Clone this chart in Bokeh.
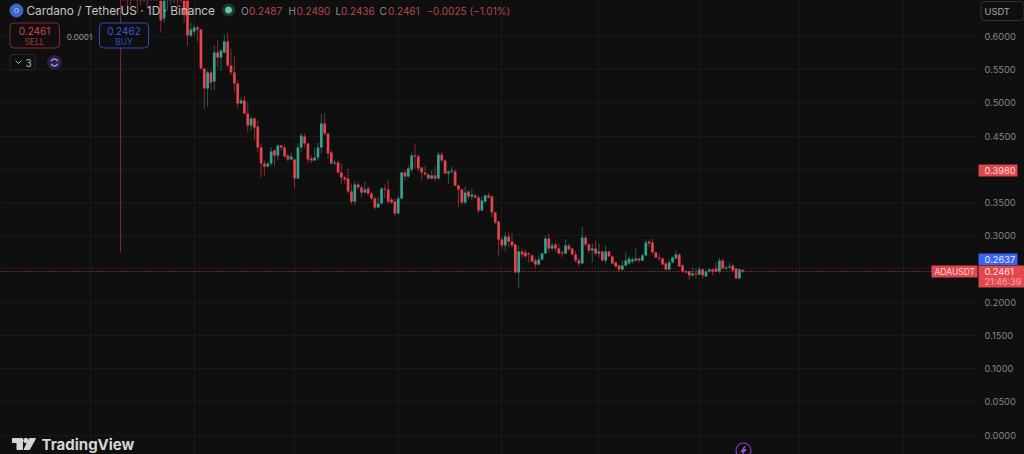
from bokeh.plotting import figure
from bokeh.models import Range1d, FixedTicker, Label, BoxAnnotation, Span, NumeralTickFormatter
from bokeh.embed import file_html
from bokeh.resources import INLINE

opens = [.72,.70,.69,.68,.665,.68,.67,.66,.68,.70,.665,.69,.665,.627,.655,.69,.66,.68,.69,.68,.655,
 .6015,.6075,.6135,.6105,.5518,.5217,.5458,.5322,.5759,.5684,.5759,.5925,.5563,.5458,.5292,.4991,.5036,.484,.466,.4765,.4645,.4329,.4088,.4043,.4088,.4284,.4208,.4359,.4329,.4208,.4148,.4148,.3862,.4329,.4494,.4389,.4163,.4133,.4178,.4329,.469,.454,.4253,.4088,.4103,
 .3952,.3877,.3862,.3666,.3516,.3772,.3727,.3651,.3711,.3636,.3561,.3425,.3486,.3711,.3696,.3546,.3516,.3335,.3561,.3952,.3892,.3997,.4208,.4193,.4028,.3952,.3922,.3862,.3907,.3862,.4223,.4133,.3937,.3967,.3967,.3757,.3696,.3501,.3666,.3591,.3606,.3576,.338,.3516,.3606,
 .3591,.335,.3215,.2944,.2853,.2989,.2914,.2868,.2447,.2763,.2748,.2733,.2703,.2627,.2567,.2642,.2733,.2959,.2808,.2868,.2808,.2748,.2733,.2853,.2808,.2718,.2627,.2582,.2974,.2868,.2778,.2808,.2733,.2763,.2627,.2763,.2688,.2597,.2552,
 .2492,.2552,.2582,.2612,.2627,.2657,.2627,.2703,.2913,.2898,.2748,.2673,.2658,.2582,.2492,.2597,.2657,.2718,.2552,.2462,.2462,.2402,.2432,.2417,.2492,.2386,.2462,.2492,.2507,.2462,.2627,.2507,.2522,.2552,.2507,.2356,.2487]
highs = [.74,.72,.70,.69,.69,.69,.68,.68,.69,.71,.70,.70,.68,.67,.68,.70,.70,.69,.70,.69,.66,
 .621,.618,.6165,.612,.5518,.5488,.5488,.5864,.594,.5804,.603,.606,.5819,.5714,.5338,.5082,.5112,.5006,.481,.478,.4735,.4389,.4133,.4118,.4329,.4299,.4374,.4374,.4374,.4238,.4253,.4163,.4389,.454,.454,.4404,.4208,.4329,.4404,.484,.484,.454,.4299,.4148,.4133,
 .4088,.3907,.4012,.3787,.3817,.3802,.3757,.3817,.3742,.3666,.3591,.3591,.3727,.3772,.3847,.3576,.3561,.3591,.3967,.3982,.4058,.4253,.4389,.4223,.4028,.4058,.3937,.3982,.4043,.4269,.4269,.4148,.3982,.4043,.3997,.3772,.3711,.3742,.3681,.3711,.3636,.3606,.3591,.3621,.3651,
 .3606,.3365,.3215,.2989,.3049,.3049,.3034,.2883,.2853,.2808,.2793,.2748,.2718,.2673,.2703,.2748,.3004,.3034,.2898,.2898,.2883,.2778,.2944,.2883,.2823,.2778,.2673,.3139,.3004,.2883,.2883,.2929,.2883,.2778,.2853,.2778,.2703,.2612,.2567,
 .2627,.2748,.2688,.2673,.2823,.2673,.2733,.2944,.2944,.2959,.2763,.2733,.2673,.2612,.2642,.2688,.2778,.2733,.2582,.2477,.2477,.2522,.2507,.2537,.2507,.2492,.2507,.2507,.2597,.2673,.2658,.2552,.2597,.2567,.2507,.2507,.2490]
lows = [.2748,.665,.6437,.6467,.655,.636,.6467,.652,.645,.66,.658,.655,.606,.621,.639,.648,.65,.642,.65,.621,.586,
 .5985,.6015,.5925,.5503,.4916,.4946,.5187,.5187,.5533,.5488,.5744,.5533,.5413,.5157,.4916,.4991,.4835,.4555,.4585,.4434,.4253,.3877,.3907,.4028,.4043,.4043,.4133,.4284,.4178,.4118,.4133,.3711,.3862,.4253,.4329,.4088,.4088,.4133,.4133,.4238,.4509,.4163,.4088,.4058,.3922,
 .3772,.3787,.3636,.3471,.3455,.3696,.3576,.3636,.3606,.3531,.3395,.341,.3471,.3561,.3486,.3486,.329,.332,.3546,.3832,.3877,.3952,.4012,.3967,.3847,.3892,.3847,.3847,.3817,.3847,.4103,.3922,.3787,.3937,.3742,.3425,.3455,.3471,.3546,.3531,.3561,.3335,.338,.3486,.3561,
 .3275,.317,.2688,.2793,.2763,.2823,.2823,.2432,.2206,.2658,.2673,.2597,.2597,.2507,.2552,.2627,.2718,.2748,.2778,.2748,.2718,.2673,.2718,.2778,.2703,.2597,.2537,.2582,.2838,.2733,.2597,.2703,.2673,.2612,.2582,.2688,.2567,.2522,.2462,
 .2477,.2537,.2567,.2582,.2612,.2597,.2612,.2688,.2823,.2733,.2658,.2612,.2552,.2477,.2477,.2582,.2658,.2537,.2447,.2432,.2341,.2386,.2356,.2402,.2356,.2386,.2447,.2402,.2447,.2432,.2492,.2492,.2507,.2462,.2356,.2356,.2436]
closes = [.70,.69,.665,.665,.68,.66,.66,.675,.665,.68,.69,.67,.624,.66,.675,.66,.68,.665,.668,.632,.6015,
 .6105,.6135,.6105,.5518,.5217,.5458,.5307,.5759,.5684,.5789,.5925,.5563,.5458,.5292,.4991,.5036,.484,.466,.4765,.463,.4329,.4088,.4043,.4088,.4269,.4208,.4359,.4329,.4193,.4148,.4193,.3862,.4329,.4509,.4389,.4148,.4133,.4178,.4329,.469,.454,.4238,.4088,.4103,.3952,
 .3877,.3847,.3666,.3516,.3772,.3727,.3651,.3696,.3636,.3561,.3425,.3486,.3711,.3696,.3516,.3501,.3335,.3561,.3952,.3892,.4012,.4208,.4193,.4012,.3952,.3922,.3862,.3907,.3862,.4223,.4133,.3937,.3967,.3982,.3757,.3696,.3501,.3651,.3591,.3621,.3576,.338,.3531,.3606,.3576,
 .335,.32,.2944,.2853,.2989,.2914,.2853,.2447,.2763,.2718,.2688,.2718,.2612,.2567,.2642,.2733,.2959,.2808,.2853,.2808,.2733,.2733,.2853,.2793,.2718,.2627,.2582,.2974,.2868,.2778,.2808,.2733,.2763,.2627,.2763,.2688,.2582,.2537,.2492,
 .2552,.2627,.2657,.2642,.2657,.2627,.2703,.2898,.2883,.2748,.2673,.2658,.2567,.2492,.2597,.2673,.2718,.2537,.2462,.2447,.2402,.2432,.2417,.2492,.2402,.2462,.2492,.2462,.2462,.2627,.2507,.2522,.2537,.2477,.2356,.2492,.2461]
price_ticks = [0.0,0.05,0.1,0.15,0.2,0.25,0.3,0.35,0.4,0.45,0.5,0.55,0.6]
month_offsets = [-195,-164,-134,-103,-72,-43,-13,17,48]
last_price = 0.2461

N = min(len(opens), len(highs), len(lows), len(closes))
opens, highs, lows, closes = opens[:N], highs[:N], lows[:N], closes[:N]

W, H, FW = 1024, 454, 977
STEP = 3.345
LAST_PX = 742.3
PX_PER_UNIT = 664.2
ZERO_PY = 434.5
BG = "#0f0f0f"; GRID = "#191919"; UP = "#35a08c"; DOWN = "#e5444f"

x0 = (N - 1) - LAST_PX / STEP
x1 = (N - 1) + (W - LAST_PX) / STEP
y1 = ZERO_PY / PX_PER_UNIT
y0 = (ZERO_PY - H) / PX_PER_UNIT
fx = lambda px: x0 + px / STEP
fy = lambda py: (ZERO_PY - py) / PX_PER_UNIT

p = figure(width=W, height=H, output_backend="svg", toolbar_location=None,
           x_range=Range1d(x0, x1), y_range=Range1d(y0, y1), y_axis_location="right",
           min_border_left=0, min_border_right=0, min_border_top=0, min_border_bottom=0,
           background_fill_color=BG, border_fill_color=BG, outline_line_color=None)
p.xaxis.visible = False
p.xgrid.ticker = FixedTicker(ticks=[N - 1 + m for m in month_offsets])
p.ygrid.ticker = FixedTicker(ticks=price_ticks)
p.xgrid.grid_line_color = GRID
p.ygrid.grid_line_color = GRID
ax = p.yaxis[0]
ax.fixed_location = fx(FW)
ax.ticker = FixedTicker(ticks=price_ticks)
ax.formatter = NumeralTickFormatter(format="0.0000")
ax.major_label_overrides = {0.25: ""}
ax.axis_line_color = None
ax.major_tick_line_color = None
ax.minor_tick_line_color = None
ax.major_tick_out = 0
ax.major_tick_in = 0
ax.major_label_standoff = 7
ax.major_label_text_color = "#858585"
ax.major_label_text_font = "Inter"
ax.major_label_text_font_size = "9.3px"

# price scale strip: hides the grid right of the chart pane
p.quad(left=[fx(FW)], right=[x1], bottom=[y0], top=[y1], fill_color=BG, line_color=None)

xs = list(range(N))
colors = [UP if c > o else DOWN for o, c in zip(opens, closes)]
p.segment(xs, highs, xs, lows, color=colors, line_width=1, line_alpha=0.55)
p.vbar(x=xs, width=0.8, top=[max(o, c) for o, c in zip(opens, closes)], bottom=[min(o, c) for o, c in zip(opens, closes)],
       fill_color=colors, line_color=None)
p.add_layout(Span(location=last_price, dimension="width", line_color="#e5444f", line_width=1, line_dash="1 2", line_alpha=0.9))

def box(l, t, r, b, fill=None, line=None, radius=0):
    p.add_layout(BoxAnnotation(left=l, right=r, top=t, bottom=b, left_units="canvas", right_units="canvas",
                               top_units="canvas", bottom_units="canvas", fill_color=fill, fill_alpha=1 if fill else 0,
                               line_color=line, line_alpha=1 if line else 0, line_width=1, border_radius=radius,
                               level="overlay"))

def text(x, y, s, color, size, align="left", weight="normal", font="Inter"):
    p.add_layout(Label(x=x, y=y, x_units="canvas", y_units="canvas", text=s, text_color=color,
                       text_font=font, text_font_size=f"{size}px", text_align=align,
                       text_baseline="middle", text_font_style=weight, level="overlay"))

# header
p.scatter([fx(16)], [fy(10)], size=13, color="#3d66c8")
p.scatter([fx(16)], [fy(10)], size=4, color=None, line_color="#a9bdf0")
text(26, 10, "Cardano / TetherUS · 1D · Binance", "#c4c4c4", 11.8)
p.scatter([fx(228)], [fy(9.5)], size=12, color="#1f3b36")
p.scatter([fx(228)], [fy(9.5)], size=6, color="#62c4ae")
RED = "#b5474c"; GR = "#8f8f8f"
for x, s, c in [(240.5, "O", GR), (248.5, "0.2487", RED), (288, "H", GR), (296, "0.2490", RED),
                (335, "L", GR), (340.5, "0.2436", RED), (379, "C", GR), (387.5, "0.2461", RED),
                (426, "−0.0025 (−1.01%)", RED)]:
    text(x, 10, s, c, 10)

# buttons
box(9.5, 22.5, 59, 47.5, BG, "#84292e", 4)
text(34, 30, "0.2461", "#d2434b", 10, "center")
text(34, 41, "SELL", "#a2373d", 8.5, "center")
text(79, 36, "0.0001", "#9a9a9a", 8, "center")
box(99, 22.5, 148, 47.5, BG, "#2a49b8", 4)
text(123.5, 30, "0.2462", "#2f5bd8", 10, "center")
text(123.5, 41, "BUY", "#2a4db4", 8.5, "center")
box(9.5, 54, 34.5, 69.5, None, "#2b2b2b", 2)
p.line([fx(15), fx(18), fx(21)], [fy(60), fy(63), fy(60)], color="#b5b5b5", line_width=1)
text(25, 62, "3", "#b5b5b5", 10)
p.scatter([fx(54)], [fy(62)], size=14, color="#2a2140")
p.arc([fx(54)], [fy(62)], radius=3.5 / STEP, start_angle=0.4, end_angle=2.8, color="#a98ae8", line_width=1.5)
p.arc([fx(54)], [fy(62)], radius=3.5 / STEP, start_angle=3.5, end_angle=5.9, color="#a98ae8", line_width=1.5)

# right side
box(980.5, 1, 1023.5, 20, BG, "#333333", 4)
text(984, 10.5, "USDT", "#a8a8a8", 9.3)
p.line([fx(1016), fx(1018), fx(1020)], [fy(9.5), fy(11.5), fy(9.5)], color="#a8a8a8", line_width=1, level="overlay")
box(978, 164, 1017, 176, "#e0474f")
text(984, 170, "0.3980", "#ffd9da", 9.3)
box(978, 253, 1017, 264.5, "#3a64f0")
text(984, 259, "0.2637", "#e3e9ff", 9.3)
box(931, 265, 977, 277, "#e0474f")
text(934, 271, "ADAUSDT", "#ffd9da", 8.5)
box(978, 265, 1024, 287, "#e0474f")
text(984, 271, "0.2461", "#ffe3e4", 9.3)
text(984, 281, "21:46:39", "#f5a9ad", 9)

# footer
p.patch([fx(12), fx(22), fx(22), fx(16.5), fx(16.5), fx(12)], [fy(438), fy(438), fy(449), fy(449), fy(442), fy(442)], color="#d5d5d5")
p.scatter([fx(25.5)], [fy(440)], size=4.5, color="#d5d5d5")
p.patch([fx(29), fx(35), fx(29), fx(23.5)], [fy(438), fy(438), fy(449), fy(449)], color="#d5d5d5")
text(41, 444, "TradingView", "#d5d5d5", 15, weight="bold")
p.scatter([fx(743)], [fy(450)], size=15, color=None, line_color="#7d3fb0", line_width=1.2)
p.patch([fx(744.5), fx(740.5), fx(743), fx(741.5), fx(745.5), fx(743)],
        [fy(445.5), fy(451), fy(451), fy(454), fy(449), fy(449)], color="#9a55d0")

html = file_html(p, INLINE)
html = html.replace("<head>", f"<head><style>html,body{{margin:0;padding:0;background:{BG};overflow:hidden}}</style>", 1)
open("out.html", "w").write(html)
